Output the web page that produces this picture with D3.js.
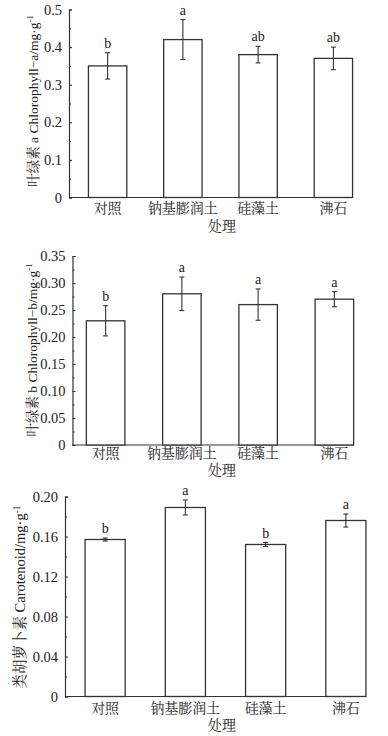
<!DOCTYPE html>
<html><head><meta charset="utf-8">
<script src="https://cdn.jsdelivr.net/npm/d3@7"></script>
<style>
html,body{margin:0;padding:0;background:#fff;}
svg{display:block;}
text{font-family:"Liberation Serif","Noto Serif CJK SC","Noto Sans CJK SC",serif;fill:#222;}
</style></head>
<body>
<svg id="chart" width="388" height="736"></svg>
<script>
const categories = ["对照","钠基膨润土","硅藻土","沸石"];
const xTitle = "处理";

// Panel 1: chlorophyll a
const chlA = [0.35, 0.42, 0.38, 0.37];
const chlAErr = [0.035, 0.053, 0.022, 0.030];
const chlALetters = ["b","a","ab","ab"];
const chlATicks = [0, 0.1, 0.2, 0.3, 0.4, 0.5];
const chlATickLabels = ["0","0.1","0.2","0.3","0.4","0.5"];

// Panel 2: chlorophyll b
const chlB = [0.23, 0.28, 0.26, 0.27];
const chlBErr = [0.028, 0.031, 0.029, 0.014];
const chlBLetters = ["b","a","a","a"];
const chlBTicks = [0, 0.05, 0.10, 0.15, 0.20, 0.25, 0.30, 0.35];
const chlBTickLabels = ["0","0.05","0.10","0.15","0.20","0.25","0.30","0.35"];

// Panel 3: carotenoid
const car = [0.157, 0.189, 0.152, 0.176];
const carErr = [0.0015, 0.0075, 0.002, 0.0065];
const carLetters = ["b","a","b","a"];
const carTicks = [0, 0.04, 0.08, 0.12, 0.16, 0.20];
const carTickLabels = ["0","0.04","0.08","0.12","0.16","0.20"];

const svg = d3.select("#chart");
const FONT = "'Liberation Serif','Noto Serif CJK SC','Noto Sans CJK SC',serif";

function panel(o){
  const g = svg.append("g");
  const y = d3.scaleLinear().domain([0, o.ticks[o.ticks.length-1]]).range([o.y0, o.y1]);
  const x = d3.scaleBand().domain(categories).range([o.bx0, o.bx1]).paddingInner(o.pad).paddingOuter(o.pad/2);
  const stroke = "#333";

  const minors = [];
  for(let i=0;i<o.ticks.length-1;i++) minors.push((o.ticks[i]+o.ticks[i+1])/2);
  const yAxis = d3.axisLeft(y).tickValues(o.ticks).tickFormat((d,i)=>o.labels[i]).tickSize(-3).tickPadding(7);
  const ag = g.append("g").attr("transform",`translate(${o.ax},0)`).call(yAxis);
  ag.attr("font-family",FONT);
  ag.select(".domain").attr("stroke",stroke).attr("stroke-width",1.2);
  ag.selectAll(".tick line").attr("stroke",stroke).attr("stroke-width",1.1);
  ag.selectAll(".tick text").attr("font-size",14.5).attr("fill","#222").style("font-family",FONT);
  const mg = g.append("g").attr("transform",`translate(${o.ax},0)`)
    .call(d3.axisLeft(y).tickValues(minors).tickFormat("").tickSize(-2));
  mg.select(".domain").remove();
  mg.selectAll(".tick line").attr("stroke",stroke).attr("stroke-width",1);

  const xEnd = x(categories[categories.length-1]) + x.bandwidth();
  g.append("line").attr("x1",o.ax).attr("x2",xEnd).attr("y1",y(0)).attr("y2",y(0))
    .attr("stroke",stroke).attr("stroke-width",1.2);

  g.selectAll("rect.bar").data(o.values).enter().append("rect")
    .attr("x",(d,i)=>x(categories[i])).attr("width",x.bandwidth())
    .attr("y",d=>y(d)).attr("height",d=>y(0)-y(d))
    .attr("fill","#fff").attr("stroke",stroke).attr("stroke-width",1.3);

  const cap = 2.5;
  o.values.forEach((v,i)=>{
    const cx = x(categories[i]) + x.bandwidth()/2;
    const e = o.errs[i];
    g.append("line").attr("x1",cx).attr("x2",cx).attr("y1",y(v+e)).attr("y2",y(v-e)).attr("stroke",stroke).attr("stroke-width",1.1);
    [v+e, v-e].forEach(t=>{
      g.append("line").attr("x1",cx-cap).attr("x2",cx+cap).attr("y1",y(t)).attr("y2",y(t)).attr("stroke",stroke).attr("stroke-width",1.1);
    });
    g.append("text").attr("x",cx).attr("y",y(v+e)-5).attr("text-anchor","middle")
      .attr("font-size",14).text(o.letters[i]);
    g.append("text").attr("x",cx).attr("y",o.catY).attr("text-anchor","middle")
      .attr("font-size",14).text(categories[i]);
  });

  g.append("text").attr("x",o.titleX).attr("y",o.titleY).attr("text-anchor","middle")
    .attr("font-size",14).text(xTitle);

  const yl = g.append("text").attr("transform",`translate(${o.ylx},${o.yly}) rotate(-90)`)
    .attr("text-anchor","middle").attr("font-size",o.ylSize);
  yl.append("tspan").text(o.ylText);
  yl.append("tspan").attr("dy",-5).attr("font-size",o.ylSize*0.65).text("-1");
}

panel({values:chlA, errs:chlAErr, letters:chlALetters, ticks:chlATicks, labels:chlATickLabels,
  ax:69, y0:197.5, y1:9.5, bx0:70, bx1:371, pad:0.49, catY:213, titleX:222, titleY:231,
  ylx:38, yly:101, ylSize:13.5, ylText:"叶绿素 a Chlorophyll−a/mg·g"});

panel({values:chlB, errs:chlBErr, letters:chlBLetters, ticks:chlBTicks, labels:chlBTickLabels,
  ax:72.5, y0:445, y1:256, bx0:67.5, bx1:372.5, pad:0.495, catY:458, titleX:222, titleY:475,
  ylx:37, yly:350, ylSize:13.5, ylText:"叶绿素 b Chlorophyll−b/mg·g"});

panel({values:car, errs:carErr, letters:carLetters, ticks:carTicks, labels:carTickLabels,
  ax:65, y0:696.5, y1:496.5, bx0:65, bx1:386, pad:0.5, catY:713, titleX:222, titleY:730,
  ylx:25, yly:597, ylSize:14.5, ylText:"类胡萝卜素 Carotenoid/mg·g"});
</script>
</body></html>
